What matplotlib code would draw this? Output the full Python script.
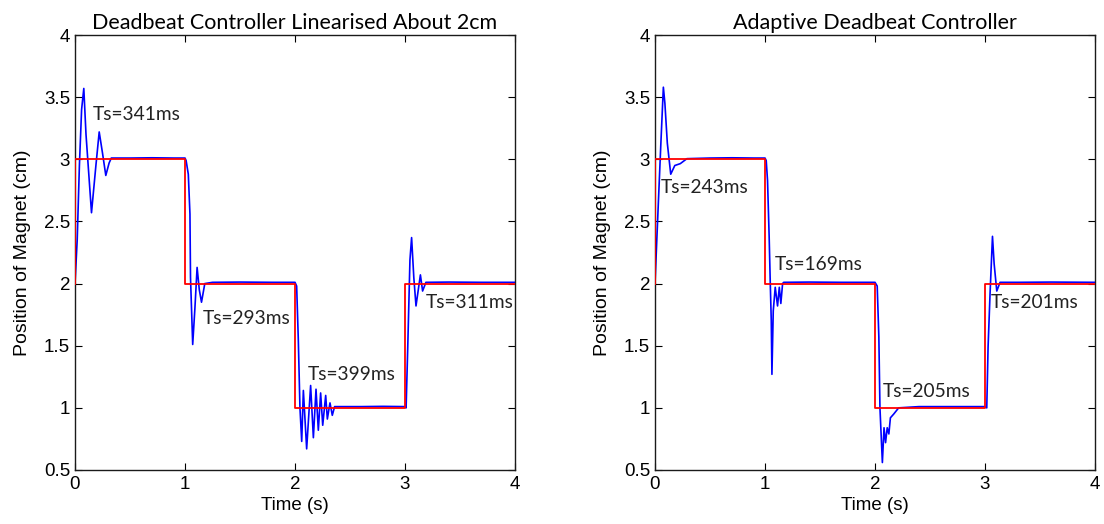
import matplotlib
matplotlib.use("Agg")
import matplotlib.pyplot as plt

# Reference (setpoint) signal, shared by both panels
ref_t = [0, 0, 1, 1, 2, 2, 3, 3, 4]
ref_v = [2, 3, 3, 2, 2, 1, 1, 2, 2]

# Left panel: deadbeat controller linearised about 2cm
left_t = [0.0, 0.02, 0.04, 0.06, 0.08, 0.10, 0.15, 0.19, 0.22, 0.25, 0.28, 0.31, 0.33, 0.50, 0.70, 0.90, 1.00,
          1.01, 1.03, 1.045, 1.05, 1.07, 1.09, 1.11, 1.13, 1.15, 1.18, 1.25, 1.50, 1.80, 2.00,
          2.015, 2.03, 2.045, 2.061, 2.076, 2.106, 2.142, 2.167, 2.191, 2.212, 2.233, 2.252, 2.279,
          2.294, 2.318, 2.339, 2.36, 2.60, 2.80, 3.00,
          3.01, 3.025, 3.045, 3.06, 3.08, 3.10, 3.14, 3.16, 3.19, 3.40, 3.70, 4.0]
left_v = [2.0, 2.35, 2.95, 3.40, 3.57, 3.20, 2.57, 2.95, 3.22, 3.05, 2.87, 2.97, 3.01, 3.01, 3.012, 3.01, 3.01,
          2.99, 2.88, 2.56, 2.05, 1.51, 1.80, 2.13, 1.95, 1.85, 2.00, 2.01, 2.012, 2.01, 2.01,
          1.98, 1.55, 1.00, 0.73, 1.14, 0.67, 1.18, 0.76, 1.15, 0.82, 1.12, 0.86, 1.10,
          0.91, 1.04, 0.94, 1.01, 1.01, 1.012, 1.01,
          1.00, 1.49, 2.19, 2.37, 2.05, 1.82, 2.07, 1.94, 2.01, 2.012, 2.01, 2.01]

# Right panel: adaptive deadbeat controller
right_t = [0.0, 0.03, 0.052, 0.076, 0.09, 0.112, 0.143, 0.18, 0.23, 0.29, 0.50, 0.70, 0.90, 1.00,
           1.011, 1.023, 1.038, 1.048, 1.057, 1.063, 1.075, 1.093, 1.114, 1.13, 1.144, 1.16, 1.17, 1.40, 1.70, 2.00,
           2.02, 2.035, 2.045, 2.067, 2.082, 2.096, 2.111, 2.126, 2.14, 2.17, 2.215, 2.40, 2.70, 3.00,
           3.016, 3.028, 3.046, 3.068, 3.083, 3.107, 3.137, 3.30, 3.60, 4.0]
right_v = [2.0, 2.64, 3.10, 3.58, 3.45, 3.13, 2.88, 2.95, 2.965, 3.005, 3.01, 3.012, 3.01, 3.01,
           2.99, 2.83, 2.37, 2.00, 1.70, 1.27, 1.78, 1.97, 1.82, 1.97, 1.84, 2.00, 2.01, 2.012, 2.01, 2.01,
           1.98, 1.57, 1.00, 0.56, 0.84, 0.72, 0.84, 0.79, 0.92, 0.95, 1.00, 1.01, 1.01, 1.01,
           1.00, 1.49, 1.92, 2.38, 2.16, 1.94, 2.01, 2.01, 2.012, 2.01]

titles = ["Deadbeat Controller Linearised About 2cm", "Adaptive Deadbeat Controller"]
left_labels = ["Ts=341ms", "Ts=293ms", "Ts=399ms", "Ts=311ms"]
left_label_pos = [(0.16, 3.36), (1.16, 1.72), (2.12, 1.27), (3.19, 1.85)]
right_labels = ["Ts=243ms", "Ts=169ms", "Ts=205ms", "Ts=201ms"]
right_label_pos = [(0.05, 2.77), (1.09, 2.15), (2.07, 1.13), (3.05, 1.85)]

xticks = [0, 1, 2, 3, 4]
yticks = [0.5, 1, 1.5, 2, 2.5, 3, 3.5, 4]

plt.rcParams['font.family'] = ['Liberation Sans', 'DejaVu Sans']
calibri_like = ['Lato', 'DejaVu Sans']

fig = plt.figure(figsize=(11.04, 5.24), dpi=100)
W, H = 1104, 524
ax1 = fig.add_axes([75 / W, 54 / H, 440 / W, 435 / H])
ax2 = fig.add_axes([655 / W, 54 / H, 440 / W, 435 / H])

panels = [(ax1, left_t, left_v, left_labels, left_label_pos),
          (ax2, right_t, right_v, right_labels, right_label_pos)]

for i, (ax, t, v, labels, pos) in enumerate(panels):
    ax.plot(t, v, color='#0000ff', lw=1.2, zorder=2)
    ax.plot(ref_t, ref_v, color='#ff0000', lw=1.3, zorder=3)
    ax.set_xlim(0, 4)
    ax.set_ylim(0.5, 4)
    ax.set_xticks(xticks)
    ax.set_yticks(yticks)
    ax.set_xticklabels([str(x) for x in xticks])
    ax.set_yticklabels(['0.5', '1', '1.5', '2', '2.5', '3', '3.5', '4'])
    ax.tick_params(direction='in', top=True, right=True, labelsize=13.5, length=5)
    ax.tick_params(axis='y', pad=3.5)
    ax.tick_params(axis='x', pad=4)
    for s in ax.spines.values():
        s.set_linewidth(1.0)
        s.set_color('#1a1a1a')
    ax.set_title(titles[i], fontsize=15.5, pad=4, family=calibri_like)
    ax.set_xlabel("Time (s)", fontsize=13.5, labelpad=3)
    ax.set_ylabel("Position of Magnet (cm)", fontsize=14, labelpad=9)
    for lab, (x, y) in zip(labels, pos):
        ax.text(x, y, lab, fontsize=13.8, ha='left', va='center', color='#222222', zorder=4,
                family=calibri_like)

fig.savefig("out.png", dpi=100)
